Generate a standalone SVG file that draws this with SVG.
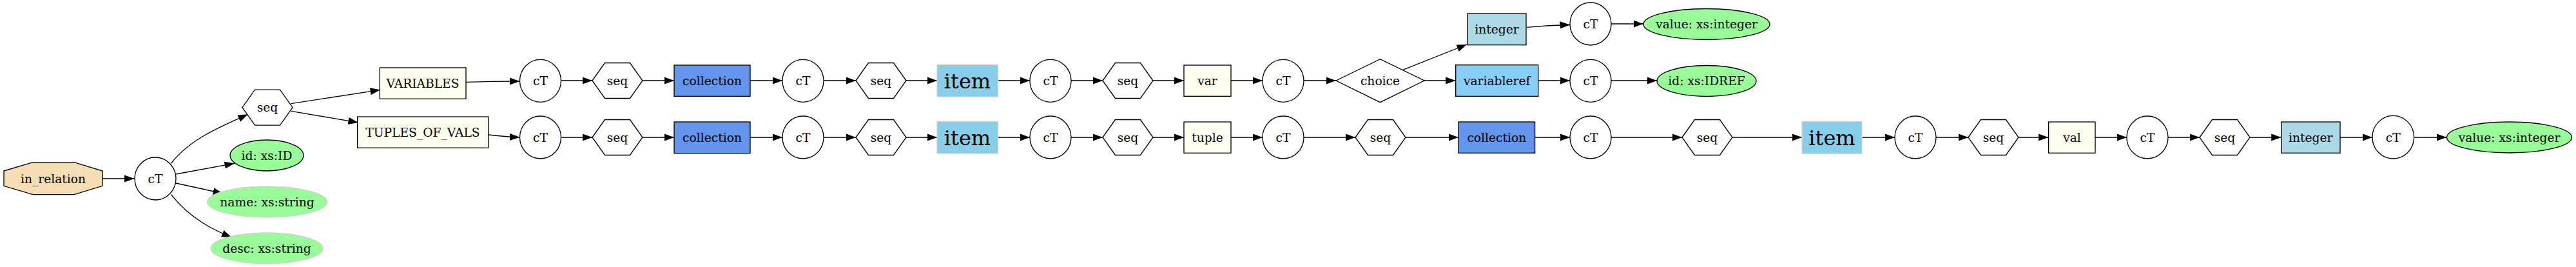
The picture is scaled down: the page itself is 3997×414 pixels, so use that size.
<svg xmlns="http://www.w3.org/2000/svg" width="3997" height="414" viewBox="0 0 3997 414">
<defs>
<marker id="ah" markerUnits="userSpaceOnUse" markerWidth="17" markerHeight="12" refX="15.5" refY="5.6" orient="auto">
<path d="M0,0 L15.5,5.6 L0,11.2 z" fill="#000"/>
</marker>
<style>
text{font-family:"DejaVu Serif","Liberation Serif",serif;font-size:18.67px;text-anchor:middle;fill:#000}
.big{font-size:32px}
.n{stroke:#000;stroke-width:1.33}
.ct{fill:#fff}
.seq{fill:#fff}
.ivory{fill:#fffff0}
.coll{fill:#6495ed}
.item{fill:#87ceeb;stroke:#d3d3d3;stroke-width:1.33}
.lblue{fill:#add8e6}
.lsky{fill:#87cefa}
.green{fill:#98fb98}
.greenl{fill:#98fb98;stroke:#d3d3d3;stroke-width:1.33}
.wheat{fill:#f5deb3}
#edges path{fill:none;stroke:#000;stroke-width:1.33;marker-end:url(#ah)}
</style>
</defs>
<rect width="3997" height="414" fill="#fff"/>
<g id="edges">
<path d="M158.5,277 L208.5,277"/>
<path d="M265.6,253.3 C295,215 345,195 384.8,177.3"/>
<path d="M273,270 L364,253.3"/>
<path d="M273,284 L346,300"/>
<path d="M265.6,301.7 C295,340 335,358 359.4,368"/>
<path d="M451.8,160.7 L590,139.3"/>
<path d="M451.8,172.3 L555.8,190"/>
<path d="M723,127.3 C760,126 780,126 806.5,126"/>
<path d="M757.7,209 C775,211 790,212.5 806.5,212.8"/>
<!-- top row -->
<path d="M870.5,125 L919,125"/>
<path d="M997,125 L1046,125"/>
<path d="M1164,125 L1214,125"/>
<path d="M1278,125 L1328,125"/>
<path d="M1406,125 L1454,125"/>
<path d="M1548,125 L1598,125"/>
<path d="M1662,125 L1711,125"/>
<path d="M1789,125 L1837,125"/>
<path d="M1910,125 L1959,125"/>
<path d="M2023,125 L2073,125"/>
<path d="M2176.7,108.3 L2276,69"/>
<path d="M2210,125 L2258.7,125"/>
<path d="M2369.3,42.3 C2395,40 2415,39 2436,38.5"/>
<path d="M2500,37 L2550,37"/>
<path d="M2386.7,125 L2436,125"/>
<path d="M2500,125 L2571,125"/>
<!-- bottom row -->
<path d="M870.5,213 L919,213"/>
<path d="M997,213 L1046,213"/>
<path d="M1164,213 L1214,213"/>
<path d="M1278,213 L1328,213"/>
<path d="M1406,213 L1454,213"/>
<path d="M1548,213 L1598,213"/>
<path d="M1662,213 L1711,213"/>
<path d="M1789,213 L1837,213"/>
<path d="M1910,213 L1959,213"/>
<path d="M2023,213 L2103,213"/>
<path d="M2180,213 L2263,213"/>
<path d="M2381.6,213 L2436,213"/>
<path d="M2500,213 L2610,213"/>
<path d="M2687,213 L2796,213"/>
<path d="M2889,213 L2940,213"/>
<path d="M3004,213 L3054,213"/>
<path d="M3130.6,213 L3178.6,213"/>
<path d="M3251,213 L3300,213"/>
<path d="M3364,213 L3413,213"/>
<path d="M3490,213 L3539.7,213"/>
<path d="M3631,213 L3681,213"/>
<path d="M3745.7,213 L3796.3,213"/>
</g>
<g id="in_relation"><polygon class="n wheat" points="6,265 51,251.7 115,251.7 159,265 159,288.3 115,301.7 51,301.7 6,288.3"/><text x="82.5" y="283.5">in_relation</text></g>
<g id="ct0"><ellipse class="n ct" cx="241" cy="277" rx="32" ry="33"/><text x="241" y="283.5">cT</text></g>
<g id="seq0"><polygon class="n seq" points="376,166.7 395.5,139.2 434.5,139.2 454,166.7 434.5,194.2 395.5,194.2"/><text x="415" y="173.2">seq</text></g>
<g id="attr_id"><ellipse class="n green" cx="414" cy="241" rx="57" ry="24"/><text x="414" y="247.5">id: xs:ID</text></g>
<g id="attr_name"><ellipse class="greenl" cx="414.5" cy="313" rx="93" ry="24"/><text x="414.5" y="319.5">name: xs:string</text></g>
<g id="attr_desc"><ellipse class="greenl" cx="414" cy="385" rx="87" ry="24"/><text x="414" y="391.5">desc: xs:string</text></g>
<g id="VARIABLES"><rect class="n ivory" x="589.3" y="105" width="133.7" height="48.3"/><text x="656" y="135.5">VARIABLES</text></g>
<g id="TUPLES_OF_VALS"><rect class="n ivory" x="554.6" y="181" width="203.1" height="48.3"/><text x="656" y="211.5">TUPLES_OF_VALS</text></g>

<g id="ct_t1"><ellipse class="n ct" cx="838.5" cy="125.3" rx="32" ry="33"/><text x="838.5" y="131.5">cT</text></g>
<g id="seq_t1"><polygon class="n seq" points="919,125 938.5,97.5 977.5,97.5 997,125 977.5,152.5 938.5,152.5"/><text x="958" y="131.5">seq</text></g>
<g id="collection_t"><rect class="n coll" x="1046" y="101" width="118" height="48.3"/><text x="1105" y="131.5">collection</text></g>
<g id="ct_t2"><ellipse class="n ct" cx="1246" cy="125.3" rx="32" ry="33"/><text x="1246" y="131.5">cT</text></g>
<g id="seq_t2"><polygon class="n seq" points="1328,125 1347.5,97.5 1386.5,97.5 1406,125 1386.5,152.5 1347.5,152.5"/><text x="1367" y="131.5">seq</text></g>
<g id="item_t"><rect class="item" x="1454" y="100.3" width="94.5" height="49.7"/><text class="big" x="1501" y="136.5">item</text></g>
<g id="ct_t3"><ellipse class="n ct" cx="1630" cy="125.3" rx="32" ry="33"/><text x="1630" y="131.5">cT</text></g>
<g id="seq_t3"><polygon class="n seq" points="1711,125 1730.5,97.5 1769.5,97.5 1789,125 1769.5,152.5 1730.5,152.5"/><text x="1750" y="131.5">seq</text></g>
<g id="var"><rect class="n ivory" x="1837" y="101" width="73" height="48.3"/><text x="1873.5" y="131.5">var</text></g>
<g id="ct_t4"><ellipse class="n ct" cx="1991" cy="125.3" rx="32" ry="33"/><text x="1991" y="131.5">cT</text></g>
<g id="choice"><polygon class="n seq" points="2073,125 2141.5,91.7 2210,125 2141.5,158.7"/><text x="2141.5" y="131.5">choice</text></g>
<g id="integer_t"><rect class="n lblue" x="2277" y="21" width="91" height="48.7"/><text x="2322.5" y="51.5">integer</text></g>
<g id="ct_t5"><ellipse class="n ct" cx="2468" cy="37" rx="32" ry="33"/><text x="2468" y="43.5">cT</text></g>
<g id="value_t"><ellipse class="n green" cx="2648" cy="37.5" rx="98" ry="24"/><text x="2648" y="44">value: xs:integer</text></g>
<g id="variableref"><rect class="n lsky" x="2258.7" y="100.7" width="128" height="48.6"/><text x="2322.7" y="131.5">variableref</text></g>
<g id="ct_t6"><ellipse class="n ct" cx="2468" cy="125.3" rx="32" ry="33"/><text x="2468" y="131.5">cT</text></g>
<g id="idref"><ellipse class="n green" cx="2648" cy="125.5" rx="77" ry="24"/><text x="2648" y="132">id: xs:IDREF</text></g>

<g id="ct_b1"><ellipse class="n ct" cx="838.5" cy="213" rx="32" ry="33"/><text x="838.5" y="219.5">cT</text></g>
<g id="seq_b1"><polygon class="n seq" points="919,213 938.5,185.5 977.5,185.5 997,213 977.5,240.5 938.5,240.5"/><text x="958" y="219.5">seq</text></g>
<g id="collection_b1"><rect class="n coll" x="1046" y="189" width="118" height="48.7"/><text x="1105" y="219.5">collection</text></g>
<g id="ct_b2"><ellipse class="n ct" cx="1246" cy="213" rx="32" ry="33"/><text x="1246" y="219.5">cT</text></g>
<g id="seq_b2"><polygon class="n seq" points="1328,213 1347.5,185.5 1386.5,185.5 1406,213 1386.5,240.5 1347.5,240.5"/><text x="1367" y="219.5">seq</text></g>
<g id="item_b1"><rect class="item" x="1454" y="188.3" width="94.5" height="49.7"/><text class="big" x="1501" y="224.5">item</text></g>
<g id="ct_b3"><ellipse class="n ct" cx="1630" cy="213" rx="32" ry="33"/><text x="1630" y="219.5">cT</text></g>
<g id="seq_b3"><polygon class="n seq" points="1711,213 1730.5,185.5 1769.5,185.5 1789,213 1769.5,240.5 1730.5,240.5"/><text x="1750" y="219.5">seq</text></g>
<g id="tuple"><rect class="n ivory" x="1837" y="189" width="73" height="48.3"/><text x="1873.5" y="219.5">tuple</text></g>
<g id="ct_b4"><ellipse class="n ct" cx="1991" cy="213" rx="32" ry="33"/><text x="1991" y="219.5">cT</text></g>
<g id="seq_b4"><polygon class="n seq" points="2103,213 2122.5,185.5 2161.5,185.5 2181,213 2161.5,240.5 2122.5,240.5"/><text x="2142" y="219.5">seq</text></g>
<g id="collection_b2"><rect class="n coll" x="2263" y="189" width="118.6" height="48.3"/><text x="2322.3" y="219.5">collection</text></g>
<g id="ct_b5"><ellipse class="n ct" cx="2468" cy="213" rx="32" ry="33"/><text x="2468" y="219.5">cT</text></g>
<g id="seq_b5"><polygon class="n seq" points="2610,213 2629.5,185.5 2668.5,185.5 2688,213 2668.5,240.5 2629.5,240.5"/><text x="2649" y="219.5">seq</text></g>
<g id="item_b2"><rect class="item" x="2796" y="188.3" width="93" height="50"/><text class="big" x="2842.5" y="224.5">item</text></g>
<g id="ct_b6"><ellipse class="n ct" cx="2972" cy="213" rx="32" ry="33"/><text x="2972" y="219.5">cT</text></g>
<g id="seq_b6"><polygon class="n seq" points="3054,213 3073.5,185.5 3112.5,185.5 3132,213 3112.5,240.5 3073.5,240.5"/><text x="3093" y="219.5">seq</text></g>
<g id="val"><rect class="n ivory" x="3178.6" y="189" width="72.4" height="48.3"/><text x="3215" y="219.5">val</text></g>
<g id="ct_b7"><ellipse class="n ct" cx="3332" cy="213" rx="32" ry="33"/><text x="3332" y="219.5">cT</text></g>
<g id="seq_b7"><polygon class="n seq" points="3413,213 3432.5,185.5 3471.5,185.5 3491,213 3471.5,240.5 3432.5,240.5"/><text x="3452" y="219.5">seq</text></g>
<g id="integer_b"><rect class="n lblue" x="3539.7" y="189" width="91.3" height="48.3"/><text x="3585.3" y="219.5">integer</text></g>
<g id="ct_b8"><ellipse class="n ct" cx="3713.3" cy="212.7" rx="32.3" ry="33.3"/><text x="3713.3" y="219.5">cT</text></g>
<g id="value_b"><ellipse class="n green" cx="3893.5" cy="213" rx="97" ry="24"/><text x="3893.5" y="219.5">value: xs:integer</text></g>
</svg>
